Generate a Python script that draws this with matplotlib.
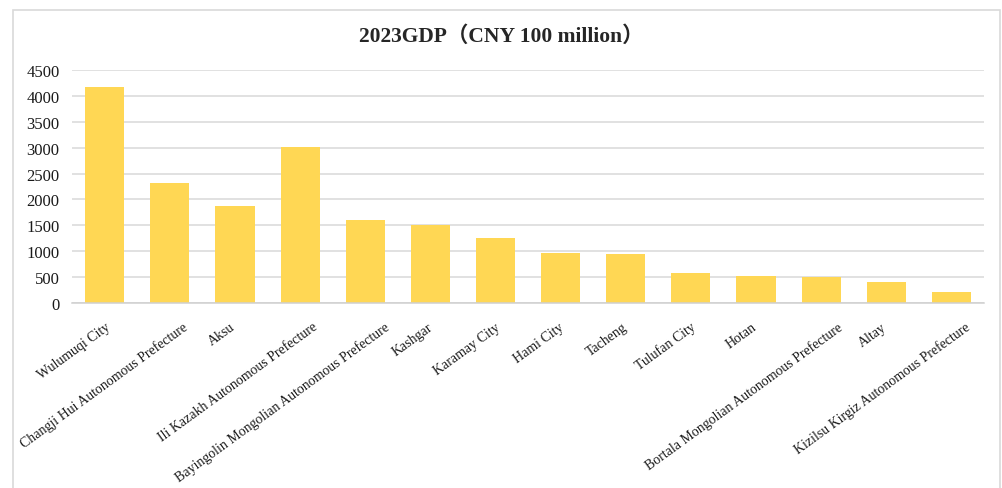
import matplotlib
matplotlib.use("Agg")
import matplotlib.pyplot as plt
from matplotlib.patches import Rectangle
from matplotlib.transforms import ScaledTranslation

regions = [
    "Wulumuqi City",
    "Changji Hui Autonomous Prefecture",
    "Aksu",
    "Ili Kazakh Autonomous Prefecture",
    "Bayingolin Mongolian Autonomous Prefecture",
    "Kashgar",
    "Karamay City",
    "Hami City",
    "Tacheng",
    "Tulufan City",
    "Hotan",
    "Bortala Mongolian Autonomous Prefecture",
    "Altay",
    "Kizilsu Kirgiz Autonomous Prefecture",
]
gdp_2023 = [4168, 2320, 1880, 3020, 1600, 1500, 1250, 975, 950,
            590, 525, 505, 410, 220]
y_ticks = list(range(0, 4501, 500))

serif = ["Liberation Serif", "Noto Sans CJK SC"]

fig = plt.figure(figsize=(10.02, 4.89), dpi=100)
ax = fig.add_axes([0.072, 0.378, 0.910, 0.477])

# outer frame of the chart area
fig.patches.append(Rectangle((0.0125, -0.1), 0.986, 1.0765, transform=fig.transFigure,
                             fill=False, edgecolor="#d9d9d9", linewidth=1.2))

x = list(range(len(regions)))
ax.bar(x, gdp_2023, width=0.6, color="#ffd754", zorder=2)

ax.set_xlim(-0.5, len(regions) - 0.5)
ax.set_ylim(0, 4500)
ax.set_yticks(y_ticks)
ax.set_yticklabels([str(v) for v in y_ticks], family=serif, fontsize=12,
                   color="#1a1a1a")
ax.set_xticks(x)
ax.set_xticklabels([])

ax.grid(axis="y", color="#d9d9d9", linewidth=1.1, zorder=0)
for side in ["top", "right", "left"]:
    ax.spines[side].set_visible(False)
ax.spines["bottom"].set_color("#d0d0d0")
ax.spines["bottom"].set_linewidth(1.1)
ax.tick_params(axis="both", length=0)
ax.tick_params(axis="y", pad=9)

# slanted category labels; longer ones sit a little further right
base = ax.get_xaxis_transform()
labels = [ax.text(i, 0, name, transform=base, rotation=36, rotation_mode="anchor",
                  ha="right", va="center", family=serif, fontsize=10,
                  color="#1a1a1a")
          for i, name in enumerate(regions)]
fig.canvas.draw()
renderer = fig.canvas.get_renderer()
for t in labels:
    w = t.get_window_extent(renderer).width
    dx = (0.127 * w - 5.3) / fig.dpi
    dy = -22 / fig.dpi
    t.set_transform(base + ScaledTranslation(dx, dy, fig.dpi_scale_trans))

fig.text(0.5, 0.925, "2023GDP（CNY 100 million）", ha="center", va="center",
         family=serif, fontsize=15.5, fontweight="bold", color="#262626")

fig.savefig("out.png", dpi=100)
